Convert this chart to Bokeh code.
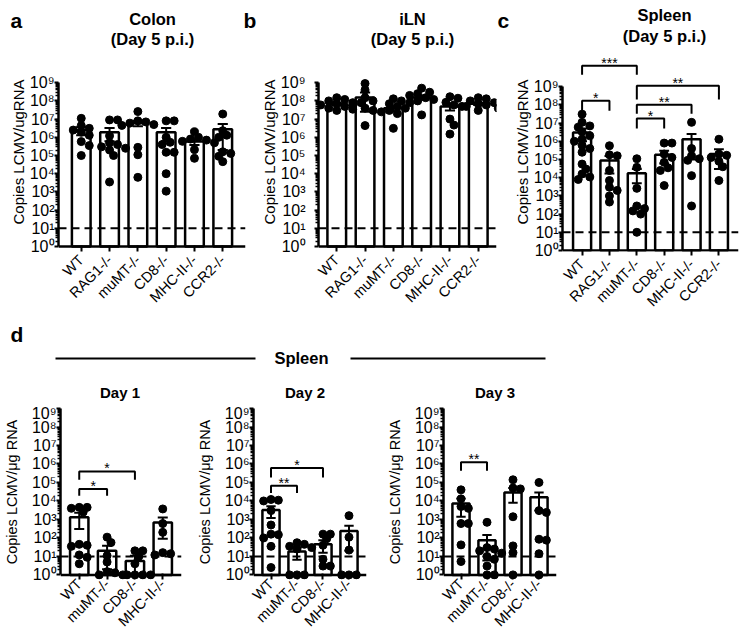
import math
from bokeh.plotting import figure
from bokeh.layouts import column, row
from bokeh.models import Range1d, Span, FixedTicker, CustomJSTickFormatter
from bokeh.core.properties import value
from bokeh.embed import file_html
from bokeh.resources import INLINE

FONT = "Liberation Sans"
INK = "#000000"

# ------------------------------------------------------------------ data
top_groups = ["WT", "RAG1-/-", "muMT-/-", "CD8-/-", "MHC-II-/-", "CCR2-/-"]
day_groups = ["WT", "muMT-/-", "CD8-/-", "MHC-II-/-"]

colon_mean = [2.5e6, 1.9e6, 6.0e6, 1.9e6, 5.8e5, 2.8e6]
colon_sem = [1.2e6, 1.3e6, 2.0e6, 1.3e6, 2.0e5, 2.6e6]
colon_pts = [
    [1.1e7, 4.4e6, 3.1e6, 2.5e6, 1.9e6, 1.3e6, 5.8e5, 3.5e5, 1.0e5],
    [9e6, 9e6, 1.2e6, 5e5, 4e5, 3e5, 2.5e5, 2e5, 1e5, 3.5e3],
    [2.6e7, 8e6, 7e6, 6e6, 5e6, 4.5e6, 2.8e5, 1.1e5, 6.3e3],
    [8e6, 8e6, 1e6, 5.3e5, 4e5, 1.5e5, 1.5e5, 1e4, 1.1e3],
    [2e6, 1e6, 8e5, 7e5, 6e5, 5e5, 2.1e5, 7e4],
    [1.9e7, 2.3e6, 1.3e6, 1e6, 1.6e5, 1.3e5, 9e4, 4.6e4],
]

iln_mean = [6.7e7, 1.55e8, 3.9e7, 1.55e8, 5.0e7, 6.9e7]
iln_sem = [1.0e7, 1.3e8, 1.2e7, 4.0e7, 2.0e7, 1.0e7]
iln_pts = [
    [1.5e8, 1.2e8, 1e8, 8e7, 7e7, 6e7, 5e7, 4e7, 3.5e7, 3e7],
    [9e8, 4e8, 1.5e8, 1e8, 8e7, 6e7, 4e7, 3e7, 4.4e6],
    [1.3e8, 1e8, 7e7, 5e7, 4e7, 3e7, 2.5e7, 2e7, 3.1e6],
    [5e8, 3e8, 2.5e8, 2e8, 1.5e8, 1.2e8, 1e8, 8e7, 1.7e7],
    [1.7e8, 1.4e8, 8.3e7, 6e7, 5e7, 1e7, 4.7e6, 1.5e6],
    [1.5e8, 1.3e8, 1e8, 8e7, 7e7, 6e7, 5e7, 4e7, 3e7],
]

spl5_mean = [3.0e6, 8.7e4, 1.75e4, 1.8e5, 1.3e6, 2.0e5]
spl5_sem = [2.0e6, 7.0e4, 1.25e4, 1.2e5, 1.2e6, 1.7e5]
spl5_pts = [
    [3.1e7, 1.1e7, 7e6, 6e6, 3.3e6, 2e6, 1.3e6, 1e6, 6e5, 4e5, 2.5e5, 5.6e4, 3e4, 1.6e4, 1.1e4, 8e3],
    [5.7e5, 1.8e5, 1.6e5, 2.5e4, 7e3, 3e3, 2e3, 1e3, 4.6e2],
    [1.1e5, 3.7e4, 2.6e3, 2.8e2, 2e2, 1.5e2, 1e2, 1e1],
    [8e5, 8e5, 2e5, 1.3e5, 7e4, 3.5e4, 2.5e4, 3.7e3],
    [1.1e7, 4e5, 1.6e5, 1.1e5, 9e4, 1.3e4, 2.8e2],
    [1.3e6, 2e5, 1.7e5, 1.3e5, 8e4, 4e4, 7e3],
]
# brackets: (group A, group B, bracket level exponent, tip exponent, label)
spl5_brackets = [
    ("WT", "muMT-/-", 10.15, 9.66, "***"),
    ("WT", "RAG1-/-", 8.23, 7.68, "*"),
    ("muMT-/-", "CCR2-/-", 9.05, 8.29, "**"),
    ("muMT-/-", "MHC-II-/-", 8.01, 7.52, "**"),
    ("muMT-/-", "CD8-/-", 7.25, 6.70, "*"),
]

d1_mean = [1.3e3, 20, 5.7, 690]
d1_sem = [1.0e3, 18, 5, 600]
d1_pts = [
    [4.5e3, 4.5e3, 4e3, 2.5e3, 45, 40, 35, 12, 9, 4],
    [110, 56, 11, 5, 1.5, 1.3, 1, 1],
    [20, 20, 10, 4, 1, 1, 1, 1],
    [3.7e3, 6e2, 2e2, 16, 14, 12],
]
d1_brackets = [("WT", "muMT-/-", 4.65, 4.28, "*"), ("WT", "CD8-/-", 5.60, 5.15, "*")]

d2_mean = [3.2e3, 18.5, 46, 240]
d2_sem = [2.0e3, 12, 30, 220]
d2_pts = [
    [1.2e4, 1.1e4, 1e4, 3e3, 5e2, 1.6e2, 1.5e2, 1e2, 35, 2.5],
    [55, 45, 35, 30, 25, 1, 1, 1],
    [160, 160, 90, 40, 7, 3, 3],
    [1.6e3, 1.1e2, 22, 1, 1, 1],
]
d2_brackets = [("WT", "muMT-/-", 4.82, 4.43, "**"), ("WT", "CD8-/-", 5.78, 5.27, "*")]

d3_mean = [7.4e3, 76, 2.9e4, 1.6e4]
d3_sem = [6.0e3, 70, 2.1e4, 1.3e4]
d3_pts = [
    [4e4, 1.3e4, 5e3, 4e3, 6e2, 6e2, 42, 5.3],
    [7e2, 30, 25, 20, 15, 10, 7, 3, 1, 1],
    [1.4e5, 5e4, 4.5e4, 1.4e3, 37, 16, 1],
    [1e5, 3e3, 2.4e3, 85, 76, 14, 1],
]
d3_brackets = [("WT", "muMT-/-", 6.09, 5.64, "**")]

top_titles = [("Colon", "(Day 5 p.i.)"), ("iLN", "(Day 5 p.i.)"), ("Spleen", "(Day 5 p.i.)")]
panel_letters = ["a", "b", "c", "d"]
day_titles = ["Day 1", "Day 2", "Day 3"]
section_title = "Spleen"

SUP = ["\u2070", "\u00b9", "\u00b2", "\u00b3", "\u2074",
       "\u2075", "\u2076", "\u2077", "\u2078", "\u2079"]

UX = 28.3      # px per category
DOT = 8        # dot diameter px
PAGE_W = 753
TXT_SHIFT = 8  # measured baseline drift of svg text


def swarm(vals, ux, uy, d=DOT):
    """deterministic beeswarm offsets (in category units)"""
    placed = []
    res = [0.0] * len(vals)
    step = d * 0.5
    order = sorted(range(len(vals)), key=lambda k: -vals[k])
    for k in order:
        y = math.log10(vals[k]) * uy
        cand = 0.0
        for m in range(60):
            cand = 0.0 if m == 0 else ((m + 1) // 2) * step * (1 if m % 2 else -1)
            if all((cand - a) ** 2 + (y - b) ** 2 >= (d * 0.75) ** 2 for a, b in placed):
                break
        placed.append((cand, y))
        res[k] = cand / ux
    return res


def build(groups, means, sems, pts, brackets, ylabel, box, frame_left, frame_w,
          frame_top, frame_bottom, zero_y, dec, ylab_size, ylab_standoff,
          tick_standoff, xlab_standoff):
    fig_left, fig_top, fig_w, fig_h = box
    n = len(groups)
    pad = (frame_w / UX - n) / 2.0
    y_hi = (zero_y - frame_top) / dec
    y_lo = -(frame_bottom - zero_y) / dec
    gap = frame_bottom - zero_y
    fh = int(round(frame_bottom - frame_top))
    bl = int(round(frame_left - fig_left))
    bt = int(round(frame_top - fig_top))
    br = fig_w - bl - frame_w
    bb = fig_h - bt - fh
    p = figure(width=fig_w, height=fig_h, title=None,
               min_border_left=bl, min_border_right=br,
               min_border_top=bt, min_border_bottom=bb,
               x_range=Range1d(-0.5 - pad, n - 0.5 + pad),
               y_range=Range1d(10 ** y_lo, 10 ** y_hi), y_axis_type="log",
               toolbar_location=None, output_backend="svg")
    p.outline_line_color = None
    p.xgrid.visible = False
    p.ygrid.visible = False

    yax = p.yaxis[0]
    yax.ticker = FixedTicker(ticks=[10 ** k for k in range(10)],
                             minor_ticks=[m * 10 ** k for k in range(9) for m in range(2, 10)])
    yax.formatter = CustomJSTickFormatter(args=dict(sup=SUP),
                                          code="return '10' + sup[Math.round(Math.log10(tick))];")
    yax.bounds = (1, 1e9)
    yax.axis_line_width = 2.5
    yax.axis_line_color = INK
    yax.major_tick_line_width = 2
    yax.major_tick_line_color = INK
    yax.major_tick_out = 4
    yax.major_tick_in = 0
    yax.minor_tick_line_width = 1.5
    yax.minor_tick_line_color = INK
    yax.minor_tick_out = 3
    yax.minor_tick_in = 0
    yax.major_label_text_font = FONT
    yax.major_label_text_font_size = "16px"
    yax.major_label_text_color = INK
    yax.major_label_standoff = tick_standoff
    yax.axis_label = ylabel
    yax.axis_label_text_font = FONT
    yax.axis_label_text_font_size = ylab_size
    yax.axis_label_text_font_style = "normal"
    yax.axis_label_text_color = INK
    yax.axis_label_standoff = ylab_standoff

    xax = p.xaxis[0]
    xax.ticker = FixedTicker(ticks=list(range(n)))
    xax.formatter = CustomJSTickFormatter(args=dict(labels=groups),
                                          code="return labels[Math.round(tick)];")
    xax.axis_line_color = None
    xax.major_tick_in = int(round(gap)) + 1
    xax.major_tick_out = max(0, 5 - int(round(gap)))
    xax.major_tick_line_width = 2
    xax.major_tick_line_color = INK
    xax.minor_tick_line_color = None
    xax.major_label_orientation = math.pi / 4
    xax.major_label_text_font = FONT
    xax.major_label_text_font_size = "14.5px"
    xax.major_label_text_color = INK
    xax.major_label_standoff = xlab_standoff

    xs = list(range(n))
    p.vbar(x=xs, top=means, bottom=1, width=0.66, fill_color="white",
           line_color=INK, line_width=2.5)

    up = [m + s for m, s in zip(means, sems)]
    lo = [(m - s) if (m - s) > 1 else 1 for m, s in zip(means, sems)]
    cap = 0.18
    p.segment(x0=xs, y0=lo, x1=xs, y1=up, line_color=INK, line_width=2)
    p.segment(x0=[x - cap for x in xs], y0=up, x1=[x + cap for x in xs], y1=up,
              line_color=INK, line_width=2)
    p.segment(x0=[x - cap for x in xs], y0=lo, x1=[x + cap for x in xs], y1=lo,
              line_color=INK, line_width=2)

    px, py = [], []
    for i, vals in enumerate(pts):
        offs = swarm(vals, UX, dec)
        px += [i + o for o in offs]
        py += vals
    p.scatter(x=px, y=py, size=DOT, fill_color=INK, line_color=INK)

    if brackets:
        bx, by, tx, ty, tt = [], [], [], [], []
        for a, b, yb, yt, lab in brackets:
            i, j = groups.index(a), groups.index(b)
            bx.append([i, i, j, j])
            by.append([10 ** yt, 10 ** yb, 10 ** yb, 10 ** yt])
            tx.append((i + j) / 2.0)
            ty.append(10 ** yb)
            tt.append(lab)
        p.multi_line(xs=bx, ys=by, line_color=INK, line_width=2)
        p.text(x=tx, y=ty, text=tt, text_font=value(FONT), text_font_size="14px",
               text_align="center", text_baseline="alphabetic", text_color=INK,
               y_offset=-3)

    p.add_layout(Span(location=10, dimension="width", line_color=INK,
                      line_width=2, line_dash="8 5"))
    p.add_layout(Span(location=1, dimension="width", line_color=INK, line_width=2.5))
    return p


def header(top, height):
    """a text strip addressed in page pixels (x from left, y from top)"""
    h = figure(width=PAGE_W, height=height, title=None,
               x_range=Range1d(0, PAGE_W), y_range=Range1d(top + height, top),
               x_axis_location=None, y_axis_location=None, toolbar_location=None,
               output_backend="svg", min_border=0)
    h.grid.visible = False
    h.outline_line_color = None
    return h


def put(h, x, y, t, size, align="center", bold=True):
    h.text(x=[x], y=[y - TXT_SHIFT], text=[t], text_font=value(FONT), text_font_size=size,
           text_font_style="bold" if bold else "normal", text_align=align,
           text_baseline="alphabetic", text_color=INK)


TOP_LAB = "Copies LCMV/ugRNA"
BOT_LAB = "Copies LCMV/\u03bcg RNA"

# header above the top row
h1 = header(0, 52)
put(h1, 10, 28, panel_letters[0], "21px", "left")
put(h1, 243, 28, panel_letters[1], "21px", "left")
put(h1, 497, 28, panel_letters[2], "21px", "left")
put(h1, 152, 26, top_titles[0][0], "16.5px")
put(h1, 152, 46, top_titles[0][1], "16.5px")
put(h1, 412, 26, top_titles[1][0], "16.5px")
put(h1, 412, 46, top_titles[1][1], "16.5px")
put(h1, 664, 22, top_titles[2][0], "16.5px")
put(h1, 664, 43, top_titles[2][1], "16.5px")

# top row: every frame spans y 52..251 (a row aligns its plot borders)
fa = build(top_groups, colon_mean, colon_sem, colon_pts, [], TOP_LAB,
           (0, 52, 256, 270), 58, 187, 52, 251, 246, 18.2, "15px", 0, 0, 6)
fb_ = build(top_groups, iln_mean, iln_sem, iln_pts, [], TOP_LAB,
            (256, 52, 254, 270), 318, 178, 52, 251, 246, 18.2, "15px", 0, 9, 6)
fc = build(top_groups, spl5_mean, spl5_sem, spl5_pts, spl5_brackets, TOP_LAB,
           (510, 52, 243, 270), 556, 182, 52, 251, 250, 18.2, "15px", 0, 0, 6)

# header for panel d
h2 = header(322, 82)
h2.segment(x0=[55, 350], y0=[358, 358], x1=[255, 545], y1=[358, 358],
           line_color=INK, line_width=2)
put(h2, 301, 365, section_title, "16.5px")
put(h2, 10, 342, panel_letters[3], "21px", "left")
put(h2, 119.5, 400, day_titles[0], "15px")
put(h2, 304.5, 400, day_titles[1], "15px")
put(h2, 494.5, 400, day_titles[2], "15px")

g1 = build(day_groups, d1_mean, d1_sem, d1_pts, d1_brackets, BOT_LAB,
           (0, 404, 193, 236), 58, 123, 404, 578.6, 574, 18.44, "14.5px", 9, 0, 2)
g2 = build(day_groups, d2_mean, d2_sem, d2_pts, d2_brackets, BOT_LAB,
           (193, 404, 190, 236), 243, 123, 404, 578.6, 574, 18.44, "14.5px", 9, 0, 2)
g3 = build(day_groups, d3_mean, d3_sem, d3_pts, d3_brackets, BOT_LAB,
           (383, 404, 183, 236), 433, 123, 404, 578.6, 574, 18.44, "14.5px", 9, 0, 2)

layout = column(h1, row(fa, fb_, fc), h2, row(g1, g2, g3))

with open("out.html", "w", encoding="utf-8") as f:
    f.write(file_html(layout, INLINE))
